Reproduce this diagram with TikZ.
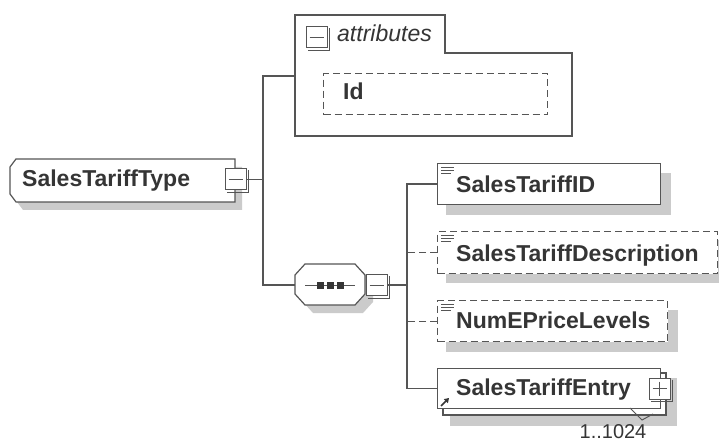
\documentclass[tikz,border=0pt]{standalone}
\usepackage{fontspec}
\setmainfont{Liberation Sans}
\usetikzlibrary{calc,arrows.meta}
\pgfdeclarelayer{bg}
\pgfsetlayers{bg,main}
\definecolor{lc}{HTML}{555555}
\definecolor{tc}{HTML}{353535}
\definecolor{sc}{HTML}{CBCBCB}
\tikzset{
  ln/.style={draw=lc, line width=1.2pt},
  dsh/.style={dash pattern=on 7pt off 4pt},
  elbox/.style={ln, fill=white, rectangle, inner sep=0pt, anchor=north west},
  eltxt/.style={text=tc, font=\fontsize{23}{27}\selectfont\bfseries, inner sep=0pt, anchor=base west},
  pmbox/.style={ln, line width=1pt, fill=white, rectangle, minimum width=21pt, minimum height=21pt, inner sep=0pt},
  ico/.pic={\draw[lc, line width=0.8pt] (0,0)--(13,0) (0,3)--(13,3) (0,6)--(10,6);},
}
\begin{document}
\begin{tikzpicture}[x=1pt,y=-1pt]
\useasboundingbox (0,0) rectangle (719,443);

% ---------- root element ----------
\fill[sc, shift={(7,8)}] (16,159) -- (235,159) -- (235,202) -- (16,202) -- (10,194) -- (10,167) -- cycle;
\draw[ln, fill=white] (16,159) -- (235,159) -- (235,202) -- (16,202) -- (10,194) -- (10,167) -- cycle;
\node[eltxt] (typet) at (22,187) {SalesTariffType};
\node[pmbox] (tmin) at (235.5,179.5) {};
\draw[ln, line width=1pt] ($(tmin.north east)+(2,2)$) -- ($(tmin.south east)+(2,2)$) -- ($(tmin.south west)+(2,2)$);
\draw[lc, line width=1pt] ($(tmin.center)+(-7,0)$) -- ($(tmin.center)+(7,0)$);

% ---------- attributes ----------
\draw[ln, fill=white] (295,15) -- (445,15) -- (445,53) -- (572,53) -- (572,136) -- (295,136) -- cycle;
\coordinate (attrin) at (295,76);
\node[pmbox] (amin) at (316.5,37.5) {};
\draw[ln, line width=1pt] ($(amin.north east)+(2,2)$) -- ($(amin.south east)+(2,2)$) -- ($(amin.south west)+(2,2)$);
\draw[lc, line width=1pt] ($(amin.center)+(-7,0)$) -- ($(amin.center)+(7,0)$);
\node[text=tc, font=\fontsize{23}{27}\selectfont\itshape, inner sep=0pt, anchor=base west] (attrt) at (337,42) {attributes};

\node[elbox, dsh, minimum width=224pt, minimum height=41pt] (id) at (323,73) {};
\node[eltxt] (idt) at (343,100) {Id};

% ---------- sequence compositor ----------
\fill[sc, shift={(8,8)}] (305,264) -- (355,264) -- (365,275) -- (365,294) -- (355,305) -- (305,305) -- (295,294) -- (295,275) -- cycle;
\draw[ln, fill=white] (305,264) -- (355,264) -- (365,275) -- (365,294) -- (355,305) -- (305,305) -- (295,294) -- (295,275) -- cycle;
\coordinate (seqin) at (295,285);
\draw[lc, line width=1pt] (305,285.5) -- (355,285.5);
\foreach \cx in {320.5,330.5,340.5} \fill[tc] (\cx-3.5,282) rectangle (\cx+3.5,289);
\node[pmbox] (smin) at (376.5,285) {};
\draw[ln, line width=1pt] ($(smin.north east)+(2,2)$) -- ($(smin.south east)+(2,2)$) -- ($(smin.south west)+(2,2)$);
\draw[lc, line width=1pt] ($(smin.center)+(-7,0)$) -- ($(smin.center)+(7,0)$);

% ---------- children ----------
\node[elbox, minimum width=223pt, minimum height=41pt] (tid) at (437,163) {};
\node[eltxt] (tidt) at ($(tid.west)+(19,8.5)$) {SalesTariffID};
\pic at ($(tid.north west)+(4,4)$) {ico};

\node[elbox, dsh, minimum width=280pt, minimum height=42pt] (desc) at (437,231) {};
\node[eltxt] (desct) at ($(desc.west)+(19,8.5)$) {SalesTariffDescription};
\pic at ($(desc.north west)+(4,4)$) {ico};

\node[elbox, dsh, minimum width=230pt, minimum height=41pt] (nume) at (437,300) {};
\node[eltxt] (numet) at ($(nume.west)+(19,7)$) {NumEPriceLevels};
\pic at ($(nume.north west)+(4,4)$) {ico};

\fill[sc] (450,378) rectangle (677,426);
\draw[ln, fill=white] (443,373) rectangle (666,415);
\node[elbox, minimum width=223pt, minimum height=40pt] (ent) at (437,368) {};
\node[eltxt] (entt) at ($(ent.west)+(19,7)$) {SalesTariffEntry};
\draw[draw=tc, line width=1.6pt, -{Triangle[length=4.5pt,width=5.5pt]}] (441,406) -- (449,398);
\node[pmbox] (emin) at (659.5,388.5) {};
\draw[ln, line width=1pt] ($(emin.north east)+(2,2)$) -- ($(emin.south east)+(2,2)$) -- ($(emin.south west)+(2,2)$);
\draw[lc, line width=1pt] ($(emin.center)+(-7,0)$) -- ($(emin.center)+(7,0)$) ($(emin.center)+(0,-7)$) -- ($(emin.center)+(0,7)$);
\draw[ln, line width=1pt] (630,408) -- (642,420) -- (653,414);
\node[text=tc, font=\fontsize{20}{24}\selectfont, inner sep=0pt, anchor=base] (mult) at (613,438.5) {1..1024};

% shadows of the child boxes
\begin{pgfonlayer}{bg}
  \fill[sc] ($(id.north west)+(10,9)$) rectangle ($(id.south east)+(10,10)$);
  \fill[sc] ($(tid.north west)+(9,10)$) rectangle ($(tid.south east)+(10,10)$);
  \fill[sc] ($(desc.north west)+(9,9)$) rectangle ($(desc.south east)+(10,9)$);
  \fill[sc] ($(nume.north west)+(9,10)$) rectangle ($(nume.south east)+(10,10)$);
\end{pgfonlayer}

% ---------- connectors ----------
\coordinate (j1) at (263,179.5);
\draw[ln] (tmin.east) -- (j1);
\draw[ln] (attrin) -| (j1) |- (seqin);
\coordinate (j2) at (407,285);
\draw[ln] (smin.east) -- (j2);
\draw[ln] (tid.west) -| (j2) |- (ent.west);
\draw[ln, dsh] (desc.west) -- (desc.west -| j2);
\draw[ln, dsh] (nume.west) -- (nume.west -| j2);
\end{tikzpicture}
\end{document}
